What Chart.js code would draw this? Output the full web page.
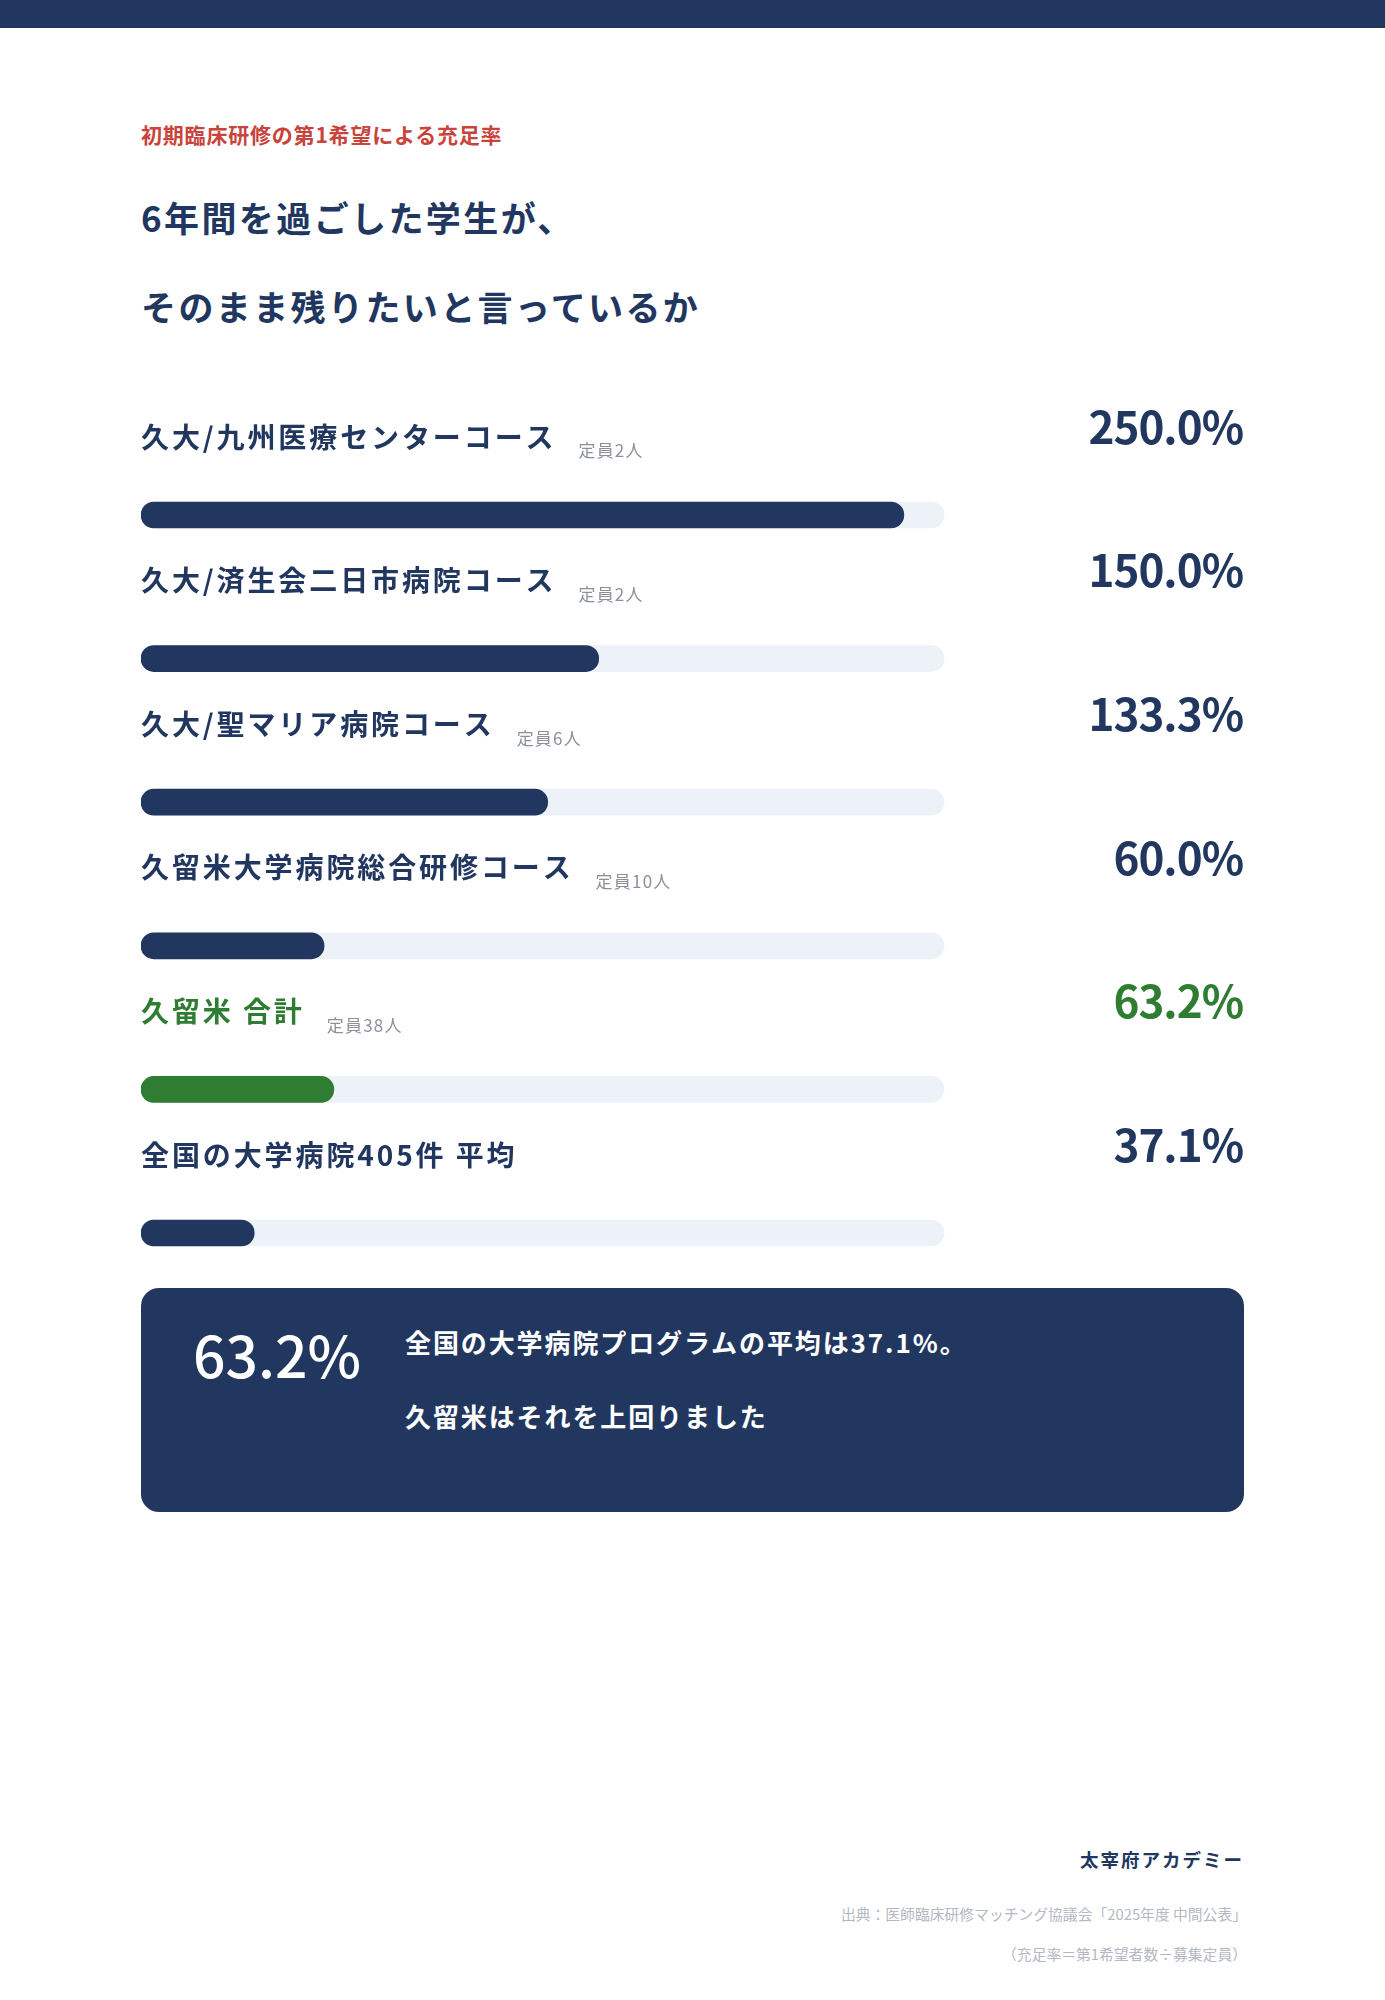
<!DOCTYPE html>
<html lang="ja">
<head>
<meta charset="utf-8">
<title>初期臨床研修の第1希望による充足率</title>
<script src="https://cdn.jsdelivr.net/npm/chart.js@4.4.1/dist/chart.umd.min.js"></script>
<style>
    html, body {
        margin: 0;
        padding: 0;
        background: #ffffff;
    }
    body {
        width: 1385px;
        height: 2000px;
        position: relative;
        font-family: "Noto Sans CJK JP", "Noto Sans", sans-serif;
        color: #21375f;
    }
    .top-bar {
        position: absolute;
        left: 0; top: 0;
        width: 1385px; height: 28px;
        background: #21375f;
    }
    .eyebrow {
        position: absolute;
        left: 141px; top: 120px;
        font-size: 21px; line-height: 28px;
        font-weight: 700;
        letter-spacing: 0.8px;
        color: #c9433b;
    }
    .title {
        position: absolute;
        left: 141px;
        font-size: 35px; line-height: 44px;
        font-weight: 700;
        letter-spacing: 2.4px;
    }
    #chart-wrap {
        position: absolute;
        left: 141px; top: 370px;
        width: 1102px; height: 900px;
    }
    .summary {
        position: absolute;
        left: 141px; top: 1288px;
        width: 1103px; height: 224px;
        border-radius: 18px;
        background: #21375f;
        color: #ffffff;
    }
    .summary .big {
        position: absolute;
        left: 52px; top: 27px;
        font-size: 57px; line-height: 76px;
        font-weight: 500;
    }
    .summary .line {
        position: absolute;
        left: 264px;
        font-size: 26px; line-height: 34px;
        font-weight: 700;
        letter-spacing: 1.9px;
    }
    .footer {
        position: absolute;
        text-align: right;
    }
    .brand {
        right: 141px;
        font-size: 18.5px; line-height: 26px;
        font-weight: 700;
        letter-spacing: 2px;
    }
    .source {
        right: 138px;
        font-size: 14.8px; line-height: 20px;
        color: #b3b8c4;
    }
</style>
</head>
<body>
<div class="top-bar"></div>
<div class="eyebrow">初期臨床研修の第1希望による充足率</div>
<div class="title" style="top: 195px;">6年間を過ごした学生が、</div>
<div class="title" style="top: 284px;">そのまま残りたいと言っているか</div>

<div id="chart-wrap"><canvas id="rate-chart"></canvas></div>

<div class="summary">
    <div class="big">63.2%</div>
    <div class="line" style="top: 37px;">全国の大学病院プログラムの平均は37.1%。</div>
    <div class="line" style="top: 111px;">久留米はそれを上回りました</div>
</div>

<div class="footer brand" style="top: 1846px;">太宰府アカデミー</div>
<div class="footer source" style="top: 1904px;">出典：医師臨床研修マッチング協議会「2025年度 中間公表」</div>
<div class="footer source" style="top: 1944px;">（充足率＝第1希望者数÷募集定員）</div>

<script>
// Course names, quotas and fill rates (%)
const courses = [
    '久大/九州医療センターコース',
    '久大/済生会二日市病院コース',
    '久大/聖マリア病院コース',
    '久留米大学病院総合研修コース',
    '久留米 合計',
    '全国の大学病院405件 平均'
];
const quotas = ['定員2人', '定員2人', '定員6人', '定員10人', '定員38人', ''];
const fillRates = [250.0, 150.0, 133.3, 60.0, 63.2, 37.1];

// Which row is the Kurume total (drawn in green)
const totalIndex = 4;

const NAVY = '#21375f';
const GREEN = '#2e7d32';
const TRACK = '#edf1f8';
const FONT = '"Noto Sans CJK JP", "Noto Sans", sans-serif';

// The longest bar fills 95% of the track
const axisMax = Math.max(...fillRates) / 0.95;

// Plugin that writes the course name, quota and rate around each bar
const rowLabels = {
    id: 'rowLabels',
    afterDatasetsDraw(chart) {
        const ctx = chart.ctx;
        const area = chart.chartArea;
        const bars = chart.getDatasetMeta(0).data;

        ctx.save();
        ctx.textBaseline = 'middle';
        bars.forEach((bar, i) => {
            const color = i === totalIndex ? GREEN : NAVY;

            // course name
            ctx.letterSpacing = '2.9px';
            ctx.font = '700 28px ' + FONT;
            ctx.fillStyle = color;
            ctx.textAlign = 'left';
            ctx.fillText(courses[i], area.left, bar.y - 78);
            const nameWidth = ctx.measureText(courses[i]).width;

            // quota
            if (quotas[i]) {
                ctx.letterSpacing = '1.2px';
                ctx.font = '400 17px ' + FONT;
                ctx.fillStyle = '#8b909b';
                ctx.fillText(quotas[i], area.left + nameWidth + 22, bar.y - 64);
            }

            // rate
            ctx.letterSpacing = '-1px';
            ctx.font = '700 44px ' + FONT;
            ctx.fillStyle = color;
            ctx.textAlign = 'right';
            ctx.fillText(fillRates[i].toFixed(1) + '%', chart.width, bar.y - 88);
        });
        ctx.restore();
    }
};

function renderChart() {
    const ctx = document.getElementById('rate-chart').getContext('2d');

    window.rateChart = new Chart(ctx, {
        type: 'bar',
        data: {
            labels: courses,
            datasets: [
                {
                    label: '充足率',
                    data: fillRates,
                    backgroundColor: fillRates.map((v, i) => i === totalIndex ? GREEN : NAVY),
                    barThickness: 26,
                    borderRadius: 13,
                    borderSkipped: false,
                    grouped: false,
                    clip: false
                },
                {
                    label: 'track',
                    data: courses.map(() => axisMax),
                    backgroundColor: TRACK,
                    barThickness: 26,
                    borderRadius: 13,
                    borderSkipped: false,
                    grouped: false,
                    clip: false
                }
            ]
        },
        options: {
            indexAxis: 'y',
            responsive: true,
            maintainAspectRatio: false,
            animation: false,
            layout: {
                padding: { top: 145, bottom: 37, left: 0, right: 299 }
            },
            scales: {
                x: { display: false, min: 0, max: axisMax },
                y: { display: false, offset: false }
            },
            plugins: {
                legend: { display: false },
                tooltip: { enabled: false }
            }
        },
        plugins: [rowLabels]
    });
}

document.addEventListener('DOMContentLoaded', renderChart);
</script>
</body>
</html>
